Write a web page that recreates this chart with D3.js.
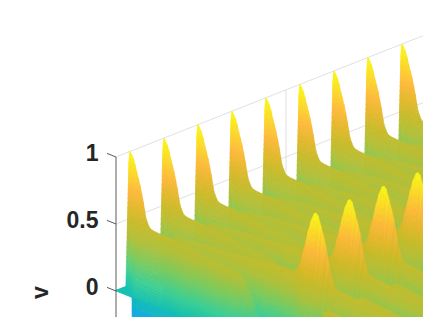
<!DOCTYPE html>
<html>
<head>
<meta charset="utf-8">
<style>
html, body { margin: 0; padding: 0; background: #fff; overflow: hidden; }
text { font-family: "Liberation Sans", Arial, sans-serif; font-weight: bold; fill: #262626; }
</style>
<script src="https://cdn.jsdelivr.net/npm/d3@7"></script>
</head>
<body>
<div id="chart"></div>
<script>
// Data
const zTicks = [0, 0.5, 1]
const zTickLabels = ['0', '0.5', '1']
const zLabel = 'v'
const uGridTicks = [5]

const firstS = [-1, 0, 1.5, 3.3, 5, 6.7, 8.4, 10, 11.7, 13.3, 14.7, 16, 17, 18, 19, 20, 22, 25, 30, 42, 70, 100, 110, 113, 116, 120, 123, 125, 128, 132, 136, 142]
const firstZ = [0.93, 1, 0.985, 0.959, 0.92, 0.869, 0.825, 0.78, 0.725, 0.665, 0.605, 0.551, 0.53, 0.513, 0.497, 0.487, 0.48, 0.476, 0.474, 0.472, 0.45, 0.43, 0.42, 0.4, 0.36, 0.3, 0.25, 0.21, 0.15, 0.08, 0.02, -0.06]
// second crest, holds the wide bump
const secondS = [24, 26, 28, 31, 40, 60, 84, 104, 120, 137, 146, 150, 152, 155, 157, 160, 162, 165, 168, 170, 172, 175, 178, 180, 183, 187, 189, 192, 200, 216, 240, 270]
const secondZ = [0.2, 0.34, 0.39, 0.405, 0.415, 0.435, 0.453, 0.468, 0.485, 0.5, 0.5, 0.52, 0.54, 0.6, 0.67, 0.77, 0.84, 0.93, 0.99, 1, 0.985, 0.91, 0.83, 0.776, 0.636, 0.535, 0.5, 0.49, 0.485, 0.47, 0.46, 0.44]
// third crest, only starts near the front
const thirdS = [200, 202, 204, 207, 215, 240, 270]
const thirdZ = [0.2, 0.37, 0.44, 0.46, 0.46, 0.44, 0.42]

const firstPeriods = d3.range(0, 10)
const secondPeriods = d3.range(0, 9)
const thirdPeriods = d3.range(0, 4)

// Colors
const colorZ = [-0.5, -0.25, -0.08, 0, 0.12, 0.25, 0.38, 0.5, 0.6, 0.72, 0.85, 1]
const colorRange = ['#2a7de0', '#1a9ae0', '#14b0dc', '#12bfb2', '#3ccf96', '#7acb60', '#b0c03a', '#c8bb2a', '#e2b82c', '#fdb93b', '#fbd82a', '#f9fb15']
const gridColor = '#e0e0e0'
const axisColor = '#5a5a5a'

// Dimensions
const width = 423
const height = 317
const wallRows = 26

const svg = d3.select('#chart').append('svg')
    .attr('width', width)
    .attr('height', height)
    .style('display', 'block')

svg.append('defs').append('filter')
    .attr('id', 'soft')
    .attr('x', 0).attr('y', 0).attr('width', 1).attr('height', 1)
    .append('feGaussianBlur')
    .attr('stdDeviation', 0.6)

// Projection scales
const xU = d3.scaleLinear().domain([0, 1]).range([116, 150])
const yU = d3.scaleLinear().domain([0, 1]).range([0, -13.43])
const xS = d3.scaleLinear().domain([0, 100]).range([0, 100])
const yS = d3.scaleLinear().domain([0, 100]).range([0, 40])
const yZ = d3.scaleLinear().domain([0, 1]).range([291, 157])
const zColor = d3.scaleLinear().domain(colorZ).range(colorRange).clamp(true)
const frontFrac = d3.scaleLinear().domain([0, 8, 16]).range([0.22, 0.5, 1]).clamp(true)

const px = (u, s) => xU(u) + xS(s)
const py = (u, s, z) => yZ(z) + yU(u) + yS(s)

// Grid
const grid = svg.append('g')
    .attr('stroke', gridColor)
    .attr('stroke-width', 1)
grid.selectAll('line.z')
    .data(zTicks)
    .join('line')
    .attr('x1', px(0, 0))
    .attr('y1', d => py(0, 0, d))
    .attr('x2', px(10, 0))
    .attr('y2', d => py(10, 0, d))
grid.selectAll('line.u')
    .data(uGridTicks)
    .join('line')
    .attr('class', 'u')
    .attr('x1', d => px(d, 0))
    .attr('y1', d => py(d, 0, 0))
    .attr('x2', d => px(d, 0))
    .attr('y2', d => py(d, 0, 1))

// Build ribbons, far ones get painted first
const ribbons = []
firstPeriods.forEach(k => ribbons.push({ kind: 'first', phase: k + 0.41, base: k, span: 0.41, sVals: firstS, zVals: firstZ }))
secondPeriods.forEach(k => ribbons.push({ kind: 'second', phase: k + 0.888, base: k, span: 0.47, low: -0.3, sVals: secondS, zVals: secondZ }))
thirdPeriods.forEach(k => ribbons.push({ kind: 'third', phase: k + 0.13, base: k, span: 0.3, low: -0.3, sVals: thirdS, zVals: thirdZ }))
ribbons.sort((a, b) => b.phase - a.phase)

// one point of a wall below the crest, row 0 is the crest itself
function wallPoint(r, i, row) {
    const s = r.sVals[i]
    const zc = r.zVals[i]
    if (r.kind === 'first') {
        const top = Math.max(zc, 0)
        const frac = frontFrac(s)
        if (row <= wallRows) {
            const f = row / wallRows
            return [r.phase - r.span * frac * f, s, top * (1 - f)]
        }
        if (row === wallRows + 1) return [r.phase - r.span, s, 0]
        return s >= 16 ? [r.phase - r.span, s, -0.07 * (row - wallRows - 1)] : null
    }
    const f = Math.min(row / wallRows, 1)
    return [r.phase - r.span * f, s, zc + (r.low - zc) * f]
}

const surface = svg.append('g').attr('filter', 'url(#soft)')
const quads = []
ribbons.forEach(r => {
    const lastRow = r.kind === 'first' ? wallRows + 9 : wallRows
    for (let row = lastRow - 1; row >= 0; row--) {
        for (let i = 0; i < r.sVals.length - 1; i++) {
            const c = [wallPoint(r, i, row), wallPoint(r, i + 1, row), wallPoint(r, i + 1, row + 1), wallPoint(r, i, row + 1)]
            if (c.some(d => d === null)) continue
            const pts = c.map(d => [px(d[0], d[1]), py(d[0], d[1], d[2])])
            if (d3.min(pts, d => d[0]) > width + 2 || d3.min(pts, d => d[1]) > height + 2) continue
            if (d3.max(pts, d => d[0]) < 0) continue
            quads.push({ pts: pts, z: d3.mean(c, d => d[2]) })
        }
    }
})

surface.selectAll('path')
    .data(quads)
    .join('path')
    .attr('d', d => 'M' + d.pts.join('L') + 'Z')
    .attr('fill', d => zColor(d.z))
    .attr('stroke', d => zColor(d.z))
    .attr('stroke-width', 0.6)

// Vertical axis
const axis = svg.append('g')
axis.append('line')
    .attr('x1', px(0, 0))
    .attr('y1', py(0, 0, 1))
    .attr('x2', px(0, 0))
    .attr('y2', height)
    .attr('stroke', axisColor)
axis.selectAll('line.tick')
    .data(zTicks)
    .join('line')
    .attr('class', 'tick')
    .attr('x1', px(0, 0))
    .attr('y1', d => py(0, 0, d))
    .attr('x2', px(0, -9))
    .attr('y2', d => py(0, -9, d))
    .attr('stroke', axisColor)
axis.selectAll('text.tick')
    .data(zTicks)
    .join('text')
    .attr('class', 'tick')
    .attr('x', 98.5)
    .attr('y', d => yZ(d) + 4)
    .attr('text-anchor', 'end')
    .style('font-size', '23px')
    .text((d, i) => zTickLabels[i])
svg.append('text')
    .attr('transform', 'translate(48,292.5) rotate(-90)')
    .attr('text-anchor', 'middle')
    .style('font-size', '23px')
    .text(zLabel)
</script>
</body>
</html>
